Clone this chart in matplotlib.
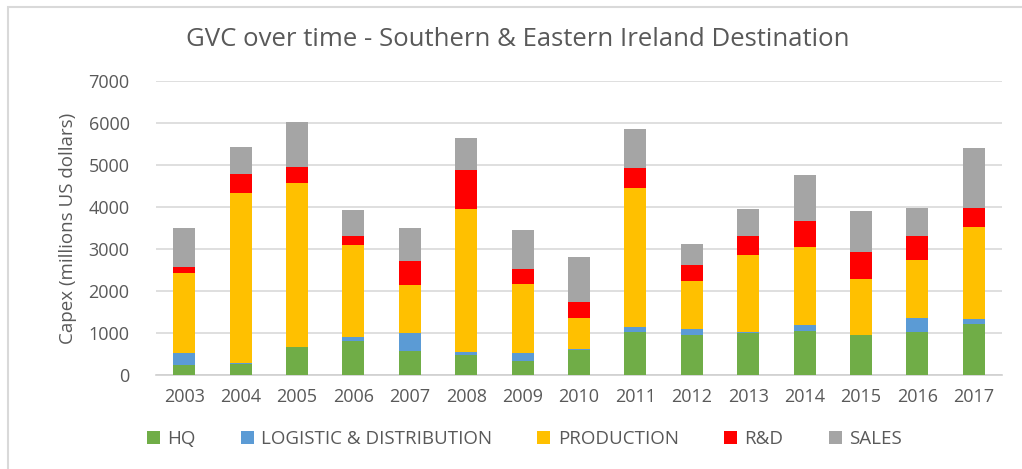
import matplotlib
matplotlib.use("Agg")
import matplotlib.pyplot as plt
from matplotlib.patches import Rectangle
import numpy as np

plt.rcParams['font.family'] = ['Open Sans', 'DejaVu Sans']

years = ['2003', '2004', '2005', '2006', '2007', '2008', '2009', '2010',
         '2011', '2012', '2013', '2014', '2015', '2016', '2017']
hq = [238, 254, 675, 810, 571, 476, 333, 603, 1032, 944, 992, 1056, 952, 1032, 1206]
logistic = [278, 24, 0, 103, 421, 72, 183, 24, 119, 143, 40, 127, 0, 325, 127]
production = [1921, 4047, 3888, 2182, 1143, 3404, 1643, 722, 3293, 1151, 1817, 1857, 1334, 1389, 2183]
rnd = [142, 461, 397, 222, 571, 937, 365, 397, 493, 389, 468, 619, 635, 571, 468]
sales = [929, 635, 1056, 612, 802, 754, 936, 1071, 928, 492, 635, 1103, 984, 667, 1413]

series = [
    ('HQ', hq, '#70AD47'),
    ('LOGISTIC & DISTRIBUTION', logistic, '#5B9BD5'),
    ('PRODUCTION', production, '#FFC000'),
    ('R&D', rnd, '#FF0000'),
    ('SALES', sales, '#A5A5A5'),
]

text_color = '#595959'
fig = plt.figure(figsize=(10.22, 4.69), dpi=100)
fig.patch.set_facecolor('white')
ax = fig.add_axes([0.1526, 0.2004, 0.9804 - 0.1526, 0.8273 - 0.2004])

x = np.arange(len(years))
bottom = np.zeros(len(years))
for name, vals, col in series:
    v = np.array(vals, dtype=float)
    ax.bar(x, v, width=0.39, bottom=bottom, color=col, label=name,
           edgecolor='none', zorder=3)
    bottom += v

ax.set_xlim(-0.5, len(years) - 0.5)
ax.set_ylim(0, 7000)
ax.set_yticks(np.arange(0, 7001, 1000))
ax.set_xticks(x)
ax.set_xticklabels(years)
ax.yaxis.grid(True, color='#d9d9d9', linewidth=1.2, zorder=0)
ax.set_axisbelow(True)
for s in ['top', 'right', 'left']:
    ax.spines[s].set_visible(False)
ax.spines['bottom'].set_color('#d0d0d0')
ax.spines['bottom'].set_linewidth(1.2)
ax.tick_params(axis='both', length=0, colors=text_color, labelsize=13)
ax.tick_params(axis='y', pad=19)
ax.tick_params(axis='x', pad=9)

ax.set_ylabel('Capex (millions US dollars)', fontsize=13.5, color=text_color, labelpad=8)

fig.text(0.507, 0.915, 'GVC over time - Southern & Eastern Ireland Destination',
         ha='center', va='center', fontsize=18.5, color=text_color)

leg = fig.legend(loc='center', bbox_to_anchor=(0.513, 0.064), ncol=5, frameon=False,
                 fontsize=13.5, handlelength=0.7, handleheight=0.7,
                 handletextpad=0.4, columnspacing=2.4)
for t in leg.get_texts():
    t.set_color(text_color)

# chart border (top and left visible)
fig.add_artist(Rectangle((8 / 1022, -0.1), 1.2, 1.1 - 7 / 469, transform=fig.transFigure,
                         fill=False, edgecolor='#d9d9d9', linewidth=1.5))

fig.savefig('out.png', dpi=100, facecolor='white')
